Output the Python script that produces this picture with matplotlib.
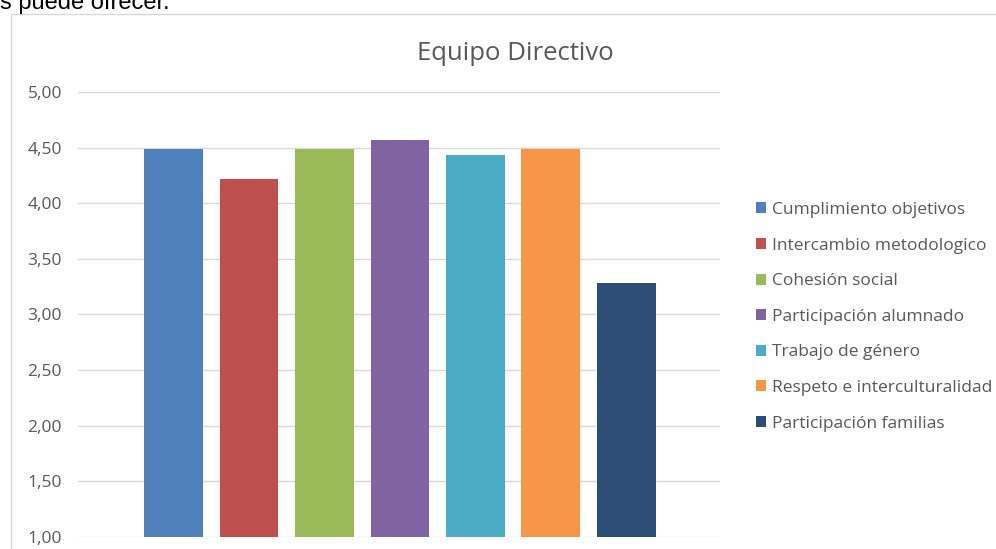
import matplotlib
matplotlib.use("Agg")
import matplotlib.pyplot as plt
from matplotlib.patches import Rectangle
from matplotlib.ticker import FixedLocator

categories = ["Cumplimiento objetivos", "Intercambio metodologico", "Cohesión social",
              "Participación alumnado", "Trabajo de género", "Respeto e interculturalidad",
              "Participación familias"]
values = [4.49, 4.22, 4.49, 4.57, 4.43, 4.49, 3.28]
colors = ["#4F81BD", "#C0504D", "#9BBB59", "#8064A2", "#4BACC6", "#F79646", "#2C4D75"]
yticks = [1.0, 1.5, 2.0, 2.5, 3.0, 3.5, 4.0, 4.5, 5.0]
ytick_labels = ["1,00", "1,50", "2,00", "2,50", "3,00", "3,50", "4,00", "4,50", "5,00"]
title = "Equipo Directivo"
header_text = "s puede ofrecer."

W, H = 996, 549
fig = plt.figure(figsize=(W / 100, H / 100), dpi=100)
fig.patch.set_facecolor("white")

# chart border (light gray), cut by figure edges
fig.patches.append(Rectangle((11 / W, -0.1), 1.2, 1 - 14 / H + 0.1, transform=fig.transFigure,
                             fill=False, edgecolor="#D9D9D9", linewidth=1.0))

# document text above chart
fig.text(0 / W, 1 - 9.5 / H, header_text, fontsize=17, family="Liberation Sans",
         color="black", ha="left", va="baseline")

ax = fig.add_axes([78 / W, 1 - 537 / H, (720 - 78) / W, (537 - 92) / H])
x = list(range(len(categories)))
for xi, v, c, lab in zip(x, values, colors, categories):
    ax.bar(xi, v - 1.0, bottom=1.0, width=0.78, color=c, label=lab, zorder=3)

ax.set_ylim(1.0, 5.0)
ax.set_xlim(-1.265, 7.24)
ax.yaxis.set_major_locator(FixedLocator(yticks))
ax.set_yticklabels(ytick_labels, fontsize=12.5, color="#595959", family="Open Sans")
ax.set_xticks([])
ax.tick_params(axis="y", length=0, pad=11.5)
ax.grid(axis="y", color="#D9D9D9", linewidth=1.0, zorder=0)
for s in ax.spines.values():
    s.set_visible(False)

fig.text(515 / W, 1 - 60 / H, title, fontsize=18.5, family="Open Sans", color="#595959",
         ha="center", va="baseline")

handles, labels = ax.get_legend_handles_labels()
leg = fig.legend(handles, labels, loc="upper left", bbox_to_anchor=(756 / W, 1 - 202 / H),
                 frameon=False, prop={"family": "Open Sans", "size": 12.5},
                 handlelength=0.6, handleheight=0.6, handletextpad=0.35, labelspacing=1.13,
                 borderaxespad=0, borderpad=0)
for t in leg.get_texts():
    t.set_color("#595959")

fig.savefig("out.png", dpi=100, facecolor="white")
